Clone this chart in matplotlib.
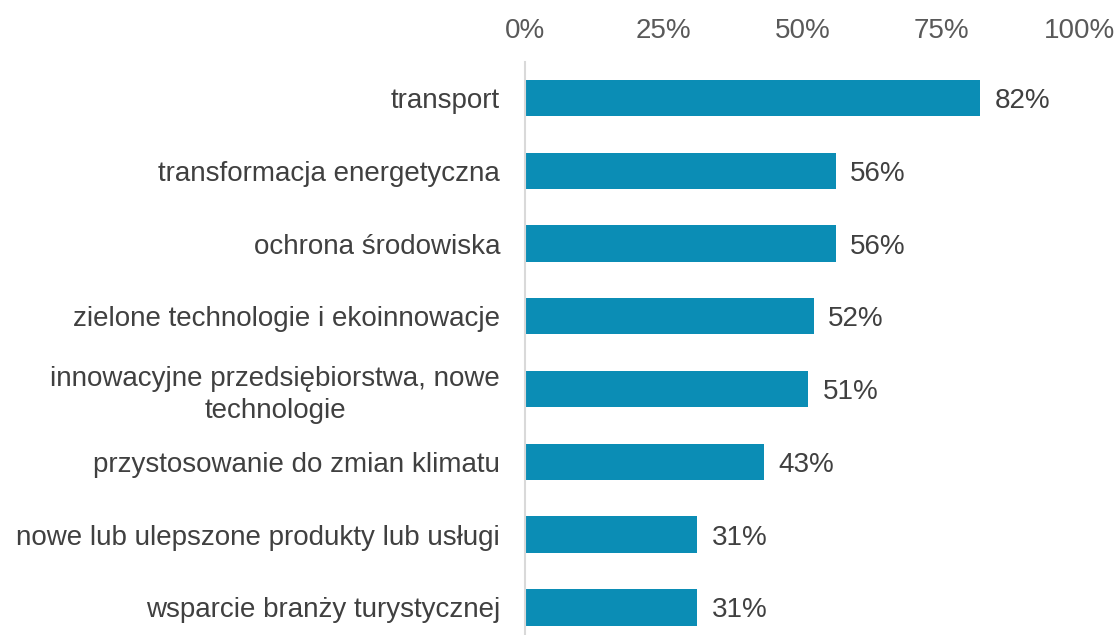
import matplotlib.pyplot as plt
from matplotlib.ticker import FuncFormatter

plt.rcParams['font.family'] = ['Liberation Sans', 'DejaVu Sans']

categories = [
    "transport",
    "transformacja energetyczna",
    "ochrona środowiska",
    "zielone technologie i ekoinnowacje",
    "innowacyjne przedsiębiorstwa, nowe\ntechnologie",
    "przystosowanie do zmian klimatu",
    "nowe lub ulepszone produkty lub usługi",
    "wsparcie branży turystycznej",
]
values = [82, 56, 56, 52, 51, 43, 31, 31]
value_labels = ["82%", "56%", "56%", "52%", "51%", "43%", "31%", "31%"]
ticks = [0, 25, 50, 75, 100]

bar_color = '#0B8DB5'
label_color = '#404040'
tick_color = '#595959'

fig = plt.figure(figsize=(11.18, 6.35), dpi=100)
ax = fig.add_axes([525 / 1118, -0.0137, 555 / 1118, 1.0137 - 61.6 / 635])

y = list(range(len(categories)))
ax.barh(y, values, height=0.5, color=bar_color)
ax.set_ylim(len(categories) - 0.5, -0.5)
ax.set_xlim(0, 100)

for yi, v, lab in zip(y, values, value_labels):
    ax.text(v + 2.6, yi, lab, va='center_baseline', ha='left', fontsize=20, color=label_color)

ax.set_yticks(y)
ax.set_yticklabels(categories, fontsize=20, color=label_color, ha='right',
                   multialignment='center', linespacing=1.3)
ax.set_xticks(ticks)
ax.xaxis.set_major_formatter(FuncFormatter(lambda v, p: f"{v:.0f}%"))
ax.xaxis.tick_top()
ax.tick_params(axis='x', length=0, pad=13, labelsize=20, labelcolor=tick_color)
ax.tick_params(axis='y', length=0, pad=18)

for s in ['top', 'right', 'bottom']:
    ax.spines[s].set_visible(False)
ax.spines['left'].set_color('#D9D9D9')
ax.spines['left'].set_linewidth(1.5)

fig.savefig('out.png', dpi=100)
